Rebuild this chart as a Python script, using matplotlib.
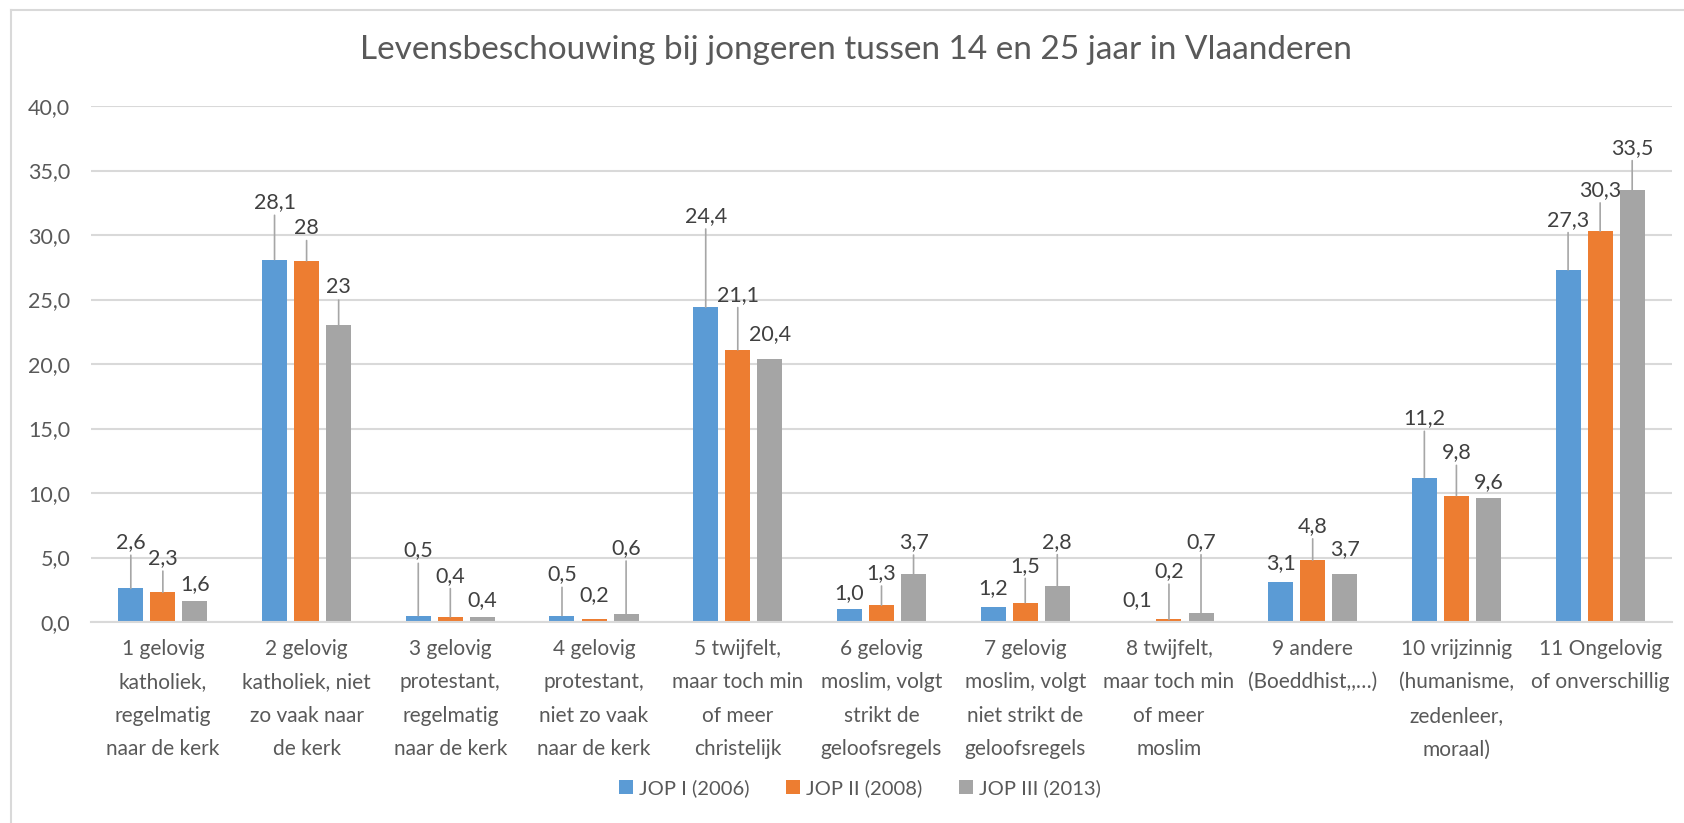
import numpy as np
import matplotlib
matplotlib.use('Agg')
import matplotlib.pyplot as plt
from matplotlib.lines import Line2D
from matplotlib.patches import Patch

plt.rcParams['font.family'] = ['Lato', 'DejaVu Sans']

# Data
categories = [
    "1 gelovig\nkatholiek,\nregelmatig\nnaar de kerk",
    "2 gelovig\nkatholiek, niet\nzo vaak naar\nde kerk",
    "3 gelovig\nprotestant,\nregelmatig\nnaar de kerk",
    "4 gelovig\nprotestant,\nniet zo vaak\nnaar de kerk",
    "5 twijfelt,\nmaar toch min\nof meer\nchristelijk",
    "6 gelovig\nmoslim, volgt\nstrikt de\ngeloofsregels",
    "7 gelovig\nmoslim, volgt\nniet strikt de\ngeloofsregels",
    "8 twijfelt,\nmaar toch min\nof meer\nmoslim",
    "9 andere\n(Boeddhist,,…)",
    "10 vrijzinnig\n(humanisme,\nzedenleer,\nmoraal)",
    "11 Ongelovig\nof onverschillig",
]
series_names = ['JOP I (2006)', 'JOP II (2008)', 'JOP III (2013)']
jop1 = [2.6, 28.1, 0.5, 0.5, 24.4, 1.0, 1.2, 0.1, 3.1, 11.2, 27.3]
jop2 = [2.3, 28.0, 0.4, 0.2, 21.1, 1.3, 1.5, 0.2, 4.8, 9.8, 30.3]
jop3 = [1.6, 23.0, 0.4, 0.6, 20.4, 3.7, 2.8, 0.7, 3.7, 9.6, 33.5]
labels1 = ['2,6', '28,1', '0,5', '0,5', '24,4', '1,0', '1,2', '0,1', '3,1', '11,2', '27,3']
labels2 = ['2,3', '28', '0,4', '0,2', '21,1', '1,3', '1,5', '0,2', '4,8', '9,8', '30,3']
labels3 = ['1,6', '23', '0,4', '0,6', '20,4', '3,7', '2,8', '0,7', '3,7', '9,6', '33,5']

# label offsets above the bar top, in pixels (manually placed labels in the original)
offs1 = [46, 57, 65, 41, 91, 16, 18, 21, 19, 59, 50]
offs2 = [34, 33, 41, 24, 55, 32, 37, 48, 34, 43, 41]
offs3 = [17, 38, 17, 66, 25, 32, 44, 71, 25, 16, 42]

colors = ['#5B9BD5', '#ED7D31', '#A5A5A5']
txt = '#595959'
grid = '#D9D9D9'

fig = plt.figure(figsize=(16.84, 8.23), dpi=100)
ax = fig.add_axes([91 / 1684, 1 - 622 / 823, (1672 - 91) / 1684, (622 - 106) / 823])

x = np.arange(len(categories))
width = 0.174
step = 0.223
series = [jop1, jop2, jop3]
labels = [labels1, labels2, labels3]
offsets = [offs1, offs2, offs3]

for i, (vals, col) in enumerate(zip(series, colors)):
    xs = x + (i - 1) * step
    ax.bar(xs, vals, width=width, color=col, zorder=3)
    for xi, v, lab, off in zip(xs, vals, labels[i], offsets[i]):
        props = None
        if off > 28:
            props = dict(arrowstyle='-', color='#A6A6A6', lw=1.2, shrinkA=0, shrinkB=0)
        ax.annotate(lab, xy=(xi, v), xytext=(0, off), textcoords='offset pixels',
                    ha='center', va='center', fontsize=15.5, color='#404040',
                    arrowprops=props, zorder=4)

ax.set_xlim(-0.5, len(categories) - 0.5)
ax.set_ylim(0, 40)
ax.set_yticks(np.arange(0, 41, 5))
ax.set_yticklabels([f"{t:.1f}".replace('.', ',') for t in np.arange(0, 41, 5)])
ax.set_xticks(x)
ax.set_xticklabels(categories, linespacing=1.85, va='top')
ax.tick_params(axis='y', length=0, pad=15, labelsize=15.5, labelcolor=txt)
ax.tick_params(axis='x', length=0, pad=12, labelsize=15, labelcolor=txt)
ax.grid(axis='y', color=grid, lw=1.5, zorder=0)
for s in ['top', 'right', 'left']:
    ax.spines[s].set_visible(False)
ax.spines['bottom'].set_color(grid)
ax.spines['bottom'].set_linewidth(1.5)
ax.spines['bottom'].set_zorder(3)

fig.text(856 / 1684, 1 - 50 / 823, 'Levensbeschouwing bij jongeren tussen 14 en 25 jaar in Vlaanderen',
         ha='center', va='center', fontsize=24, color=txt)

handles = [Patch(facecolor=c) for c in colors]
fig.legend(handles, series_names, loc='center', bbox_to_anchor=(860 / 1684, 1 - 788 / 823),
           ncol=3, frameon=False, fontsize=14.5, labelcolor=txt, handlelength=0.7,
           handleheight=0.7, handletextpad=0.3, columnspacing=1.8)

# chart border (left and top visible)
fig.add_artist(Line2D([11 / 1684, 11 / 1684], [0, 1 - 10 / 823], color=grid, lw=1.5))
fig.add_artist(Line2D([11 / 1684, 1], [1 - 10 / 823, 1 - 10 / 823], color=grid, lw=1.5))

fig.savefig('out.png', dpi=100)
